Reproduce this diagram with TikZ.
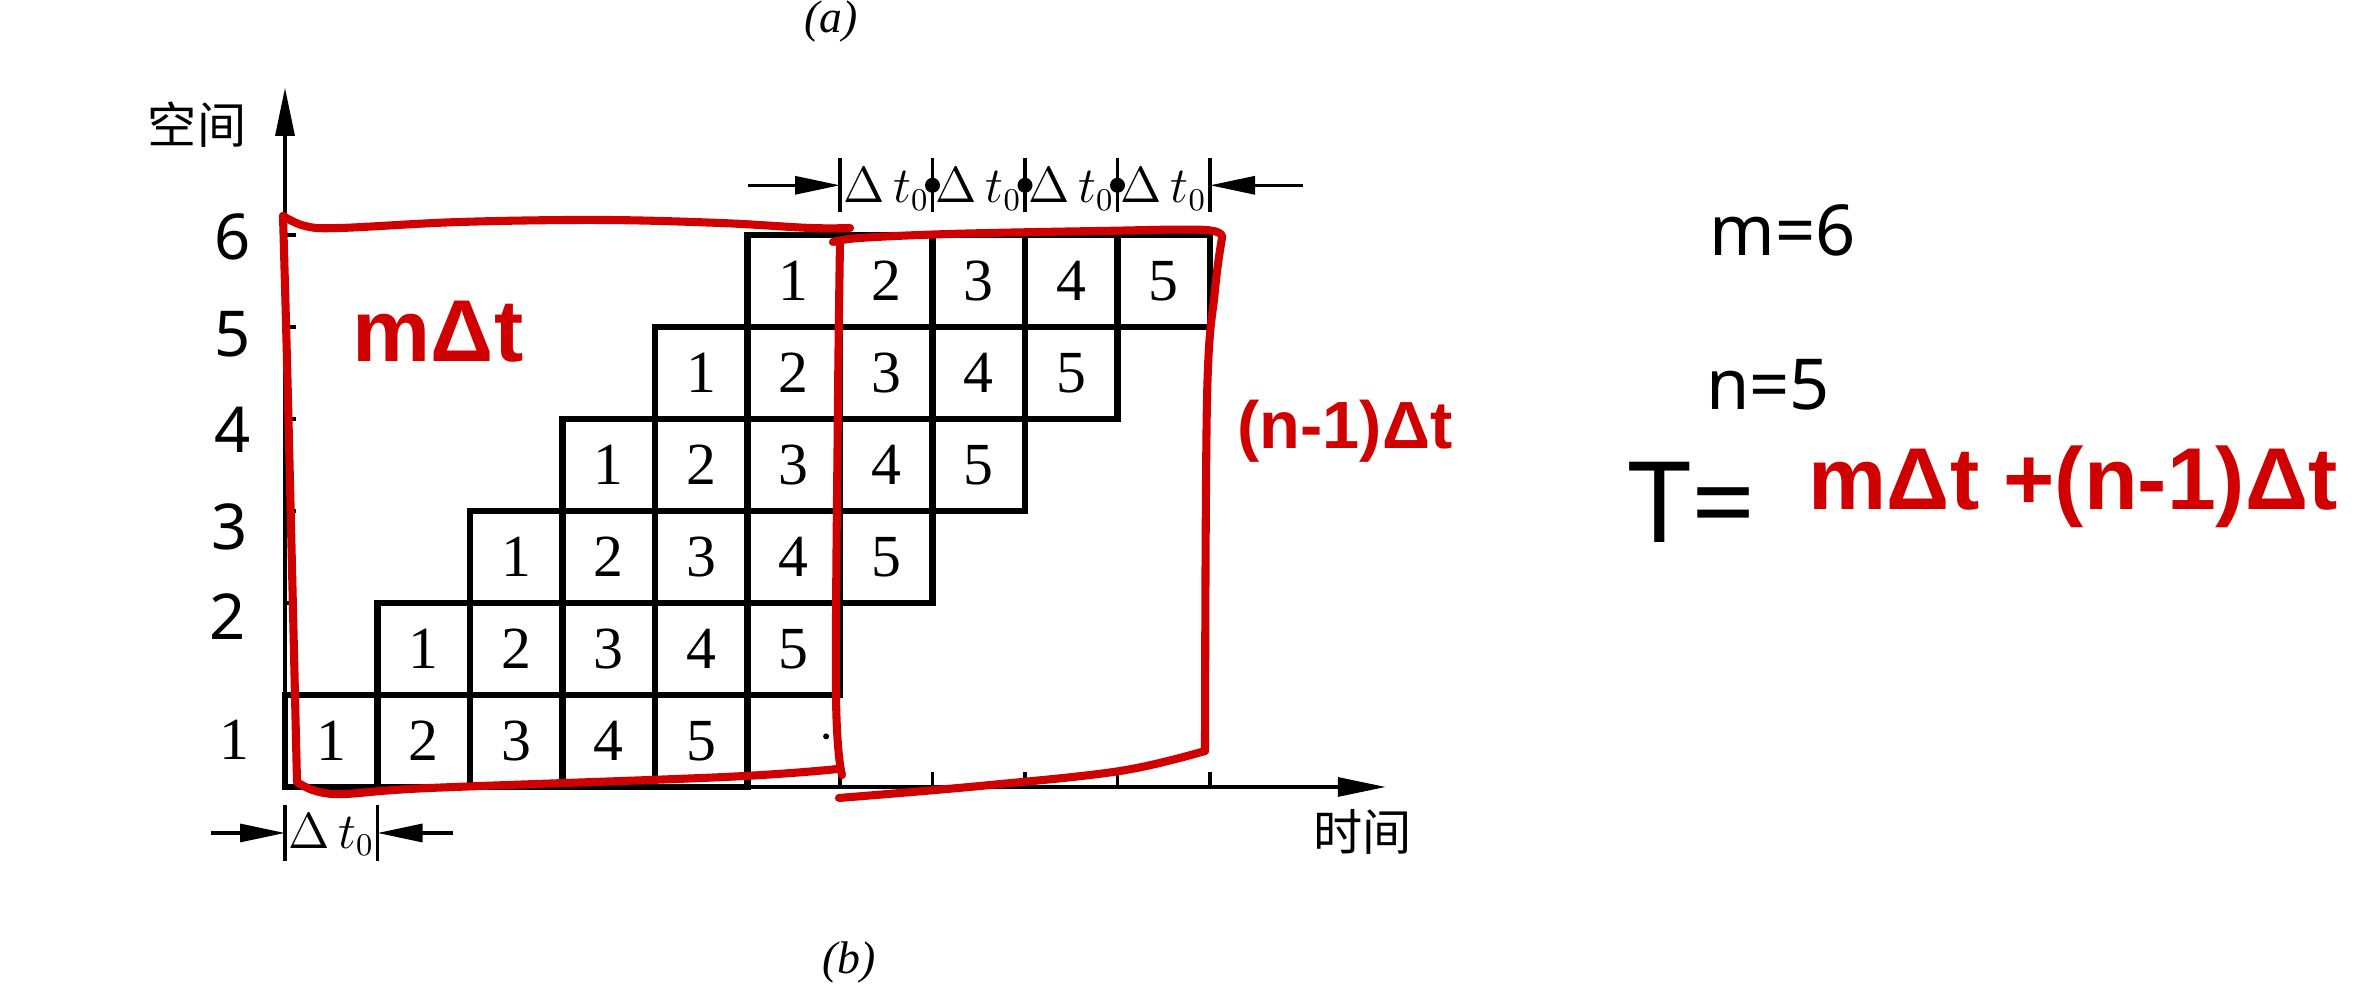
\documentclass[tikz,border=0pt]{standalone}
\usepackage{fontspec}
\setmainfont{Liberation Serif}
\newfontfamily\cjk{Noto Sans CJK SC}
\newfontfamily\hand{Noto Sans}
\newfontfamily\marker{Liberation Sans}
\usetikzlibrary{arrows.meta}
\definecolor{penred}{RGB}{208,0,0}

\tikzset{
    cell/.style={line width=1.8pt},
    num/.style={font=\fontsize{17}{19}\selectfont},
    dt/.style={font=\fontsize{13.5}{15}\selectfont, inner sep=0pt},
    axis/.style={line width=0.9pt, -{Triangle[length=4.8mm, width=1.9mm]}},
    dimline/.style={line width=0.9pt, -{Triangle[length=4.5mm, width=1.8mm]}},
    bar/.style={line width=0.9pt},
    ink/.style={penred, line width=2.3pt, line cap=round, line join=round},
    inktext/.style={penred, font=\marker\bfseries\fontsize{25}{28}\selectfont},
    pen/.style={font=\hand\fontsize{18}{22}\selectfont},
}

\begin{document}
\begin{tikzpicture}
    \useasboundingbox (0,0) rectangle (23.69,10);
    \fill[white] (0,0) rectangle (23.69,10);

    % Define the space-time grid
    \begin{scope}[shift={(2.85,2.13)}, x=0.925cm, y=0.92cm]
        \coordinate (O) at (0,0);
        \coordinate (xtip) at (11.9,0);
        \coordinate (ytip) at (0,7.6);
        \draw[axis] (O) -- (xtip);
        \draw[axis] (O) -- (ytip);
        \node[font=\cjk\fontsize{14}{16}\selectfont] (space) at (-0.95,7.2) {空间};
        \node[font=\cjk\fontsize{14}{16}\selectfont] (time) at (11.65,-0.49) {时间};

        % ticks on both axes
        \foreach \k in {2,...,6}
            \draw[bar] (0,\k) -- ++(0.12,0);
        \foreach \k in {6,...,10}
            \draw[bar] (\k,0) -- ++(0,0.16);

        % the stages, one row for each segment
        \foreach \j in {0,...,5}{
            \foreach \k in {1,...,5}{
                \pgfmathtruncatemacro{\col}{\j+\k-1}
                \draw[cell] (\col,\j) rectangle ++(1,1);
                \node[num] (c\j\k) at (\col+0.5,\j+0.5) {\k};
            }
        }
        \fill (5.85,0.55) circle (0.03cm);
        \node[num] (row1) at (-0.55,0.51) {1};

        % Draw the time spans above the grid
        \coordinate (tl) at (5,6.54);
        \coordinate (t6) at (6,6.54);
        \coordinate (t10) at (10,6.54);
        \coordinate (tr) at (11,6.54);
        \draw[dimline] (tl) -- (t6);
        \draw[dimline] (tr) -- (t10);
        \foreach \k in {6,...,10}
            \draw[bar] (\k,6.25) -- (\k,6.84);
        \foreach \k in {7,8,9}
            \fill (\k,6.54) circle (0.075cm);
        \foreach \k in {6,...,9}
            \node[dt] (span\k) at (\k+0.5,6.5) {$\Delta\,t_0$};

        % and the one below it
        \coordinate (bl) at (-0.8,-0.5);
        \coordinate (b0) at (0,-0.5);
        \coordinate (b1) at (1,-0.5);
        \coordinate (br) at (1.82,-0.5);
        \draw[dimline] (bl) -- (b0);
        \draw[dimline] (br) -- (b1);
        \draw[bar] (0,-0.2) -- (0,-0.8);
        \draw[bar] (1,-0.2) -- (1,-0.8);
        \node[dt] (span0) at (0.5,-0.52) {$\Delta\,t_0$};

        % Label the figure
        \node[font=\itshape\fontsize{13}{15}\selectfont, anchor=north, inner sep=0pt] (capa) at (5.9,8.55) {(a)};
        \node[font=\itshape\fontsize{13}{15}\selectfont] (capb) at (6.1,-1.91) {(b)};

        % hand written segment numbers
        \node[pen] (h6) at (-0.57,5.98) {6};
        \node[pen] (h5) at (-0.57,4.92) {5};
        \node[pen] (h4) at (-0.57,3.88) {4};
        \node[pen] (h3) at (-0.6,2.83) {3};
        \node[pen] (h2) at (-0.62,1.85) {2};
    \end{scope}

    % Draw the red boxes
    \draw[ink] plot[smooth, tension=0.6] coordinates {(2.83,7.84) (3.05,7.74) (3.40,7.72) (4.60,7.78) (6.00,7.80) (7.20,7.77) (8.10,7.72) (8.50,7.72)};
    \draw[ink] plot[smooth, tension=0.6] coordinates {(2.83,7.84) (2.88,6.0) (2.97,2.18)};
    \draw[ink] plot[smooth, tension=0.6] coordinates {(2.97,2.18) (3.33,2.06) (4.30,2.12) (7.25,2.23) (8.38,2.31)};
    \draw[ink] plot[smooth, tension=0.6] coordinates {(8.40,7.58) (8.38,6.0) (8.36,3.05) (8.42,2.25)};
    \draw[ink] plot[smooth, tension=0.6] coordinates {(8.33,7.58) (8.60,7.62) (9.50,7.66) (11.0,7.69) (12.05,7.70) (12.22,7.62)};
    \draw[ink] plot[smooth, tension=0.6] coordinates {(12.22,7.62) (12.15,7.10) (12.07,6.0) (12.05,2.49)};
    \draw[ink] plot[smooth, tension=0.6] coordinates {(12.05,2.49) (11.20,2.29) (9.80,2.14) (8.39,2.02)};
    \node[inktext] (mdt) at (4.38,6.68) {mΔt};
    \node[inktext, font=\marker\bfseries\fontsize{19}{22}\selectfont] (ndt) at (13.45,5.69) {(n-1)Δt};

    % the formula on the right
    \node[pen, font=\hand\fontsize{20}{24}\selectfont] (m) at (17.83,7.70) {m=6};
    \node[pen, font=\hand\fontsize{20}{24}\selectfont] (n) at (17.68,6.15) {n=5};
    \node[pen, font=\hand\fontsize{32}{36}\selectfont] (T) at (16.92,4.98) {T=};
    \node[inktext, font=\marker\bfseries\fontsize{25}{28}\selectfont, anchor=west, inner sep=0pt] (sum) at (18.08,5.13) {mΔt +(n-1)Δt};
\end{tikzpicture}
\end{document}
